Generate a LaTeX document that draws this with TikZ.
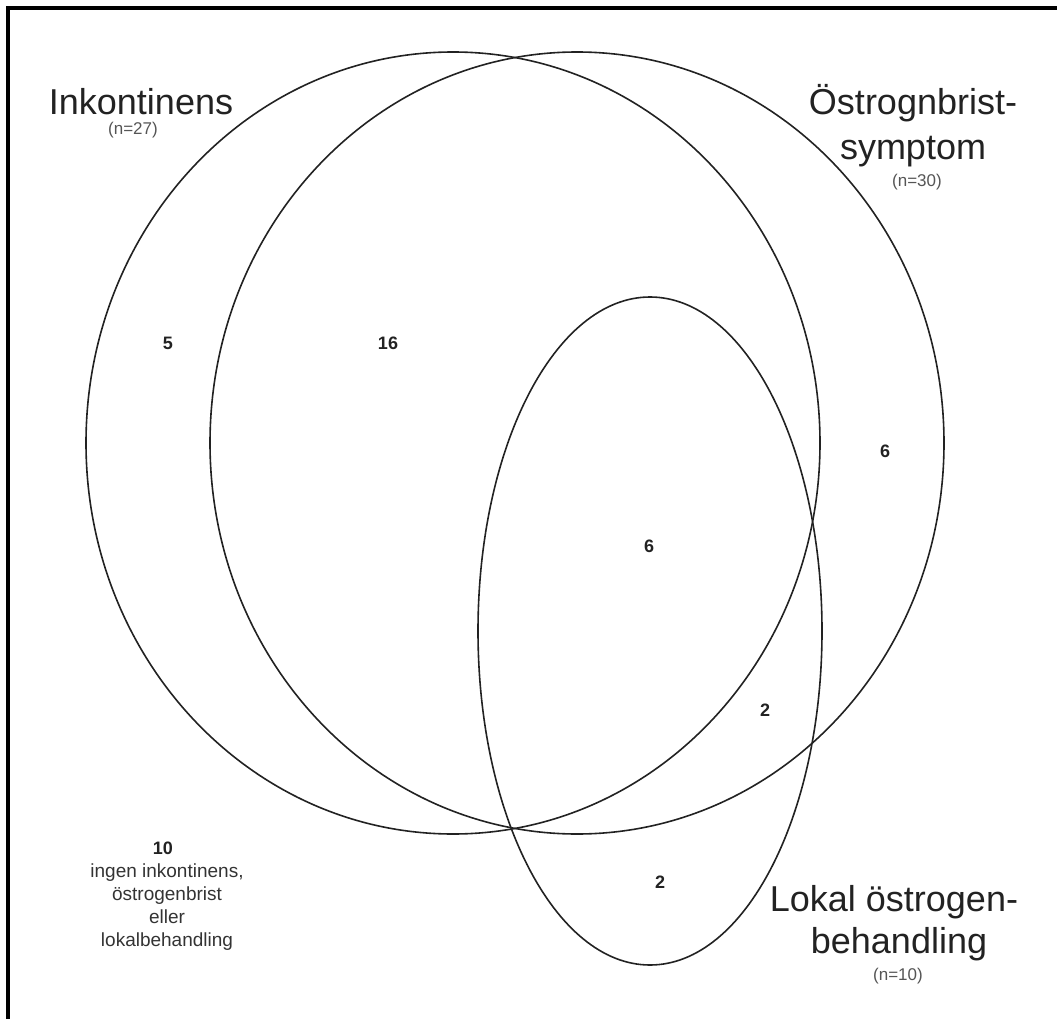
\documentclass[tikz,border=0pt]{standalone}
\usepackage{fontspec}
\setmainfont{Liberation Sans}
\usetikzlibrary{shapes.geometric}
\definecolor{ink}{HTML}{222222}
\definecolor{subink}{HTML}{555555}
\definecolor{noteink}{HTML}{333333}
\tikzset{
  venn/.style={draw=ink, line width=1.6pt, ellipse, inner sep=0pt, outer sep=0pt},
  biglabel/.style={anchor=base, inner sep=0pt, text=ink, font=\fontsize{36}{45}\selectfont},
  nlabel/.style={anchor=base, inner sep=0pt, text=subink, font=\fontsize{17}{21}\selectfont},
  count/.style={anchor=center, inner sep=0pt, text=ink, font=\fontsize{18}{22}\selectfont\bfseries},
  note/.style={anchor=base, inner sep=0pt, text=noteink, font=\fontsize{19}{23}\selectfont},
}
\begin{document}
\begin{tikzpicture}[x=1pt, y=-1pt]
\useasboundingbox (0,0) rectangle (1057,1019);
% frame (top and left edges only)
\fill[black] (6,6) rectangle (1057,10);
\fill[black] (6,6) rectangle (10,1019);
% sets
\node[venn, minimum width=734pt, minimum height=782pt] (inko) at (453,443) {};
\node[venn, minimum width=734pt, minimum height=782pt] (ostro) at (577,443) {};
\node[venn, minimum width=344pt, minimum height=668pt] (lokal) at (650,631) {};
% set labels
\node[biglabel] (inkoT) at (141,115) {Inkontinens};
\node[nlabel] (inkoN) at (133,135) {(n=27)};
\node[biglabel] (ostroT1) at (913,115) {Östrognbrist-};
\node[biglabel] (ostroT2) at (913,160) {symptom};
\node[nlabel] (ostroN) at (917,187) {(n=30)};
\node[biglabel] (lokalT1) at (894,911) {Lokal östrogen-};
\node[biglabel] (lokalT2) at (899,953) {behandling};
\node[nlabel] (lokalN) at (898,980) {(n=10)};
% counts
\node[count] (c5) at (168,343) {5};
\node[count] (c16) at (388,343) {16};
\node[count] (c6a) at (885,451) {6};
\node[count] (c6b) at (649,546) {6};
\node[count] (c2a) at (765,710) {2};
\node[count] (c2b) at (660,882) {2};
% outside
\node[count] (c10) at (163,848) {10};
\node[note] (n1) at (167,877) {ingen inkontinens,};
\node[note] (n2) at (167,900) {östrogenbrist};
\node[note] (n3) at (167,923) {eller};
\node[note] (n4) at (167,946) {lokalbehandling};
\end{tikzpicture}
\end{document}
